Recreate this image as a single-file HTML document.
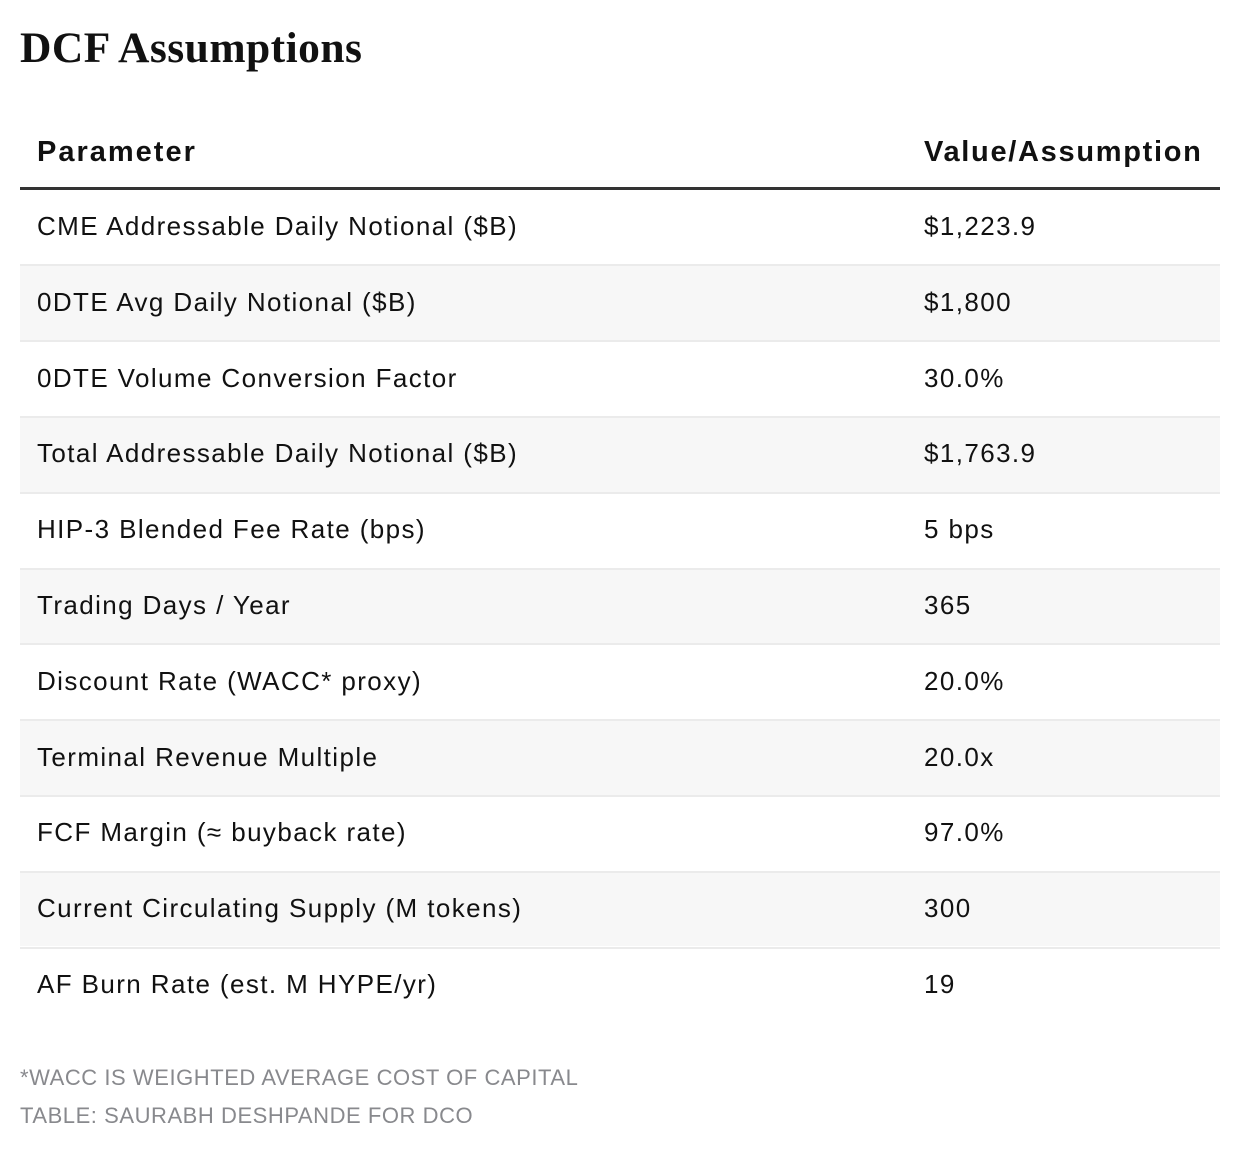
<!DOCTYPE html>
<html>
<head>
<meta charset="utf-8">
<style>
  html, body { margin:0; padding:0; background:#ffffff; }
  body { width:1240px; height:1150px; position:relative; overflow:hidden; font-family:"Liberation Sans", Arial, sans-serif; }
  .title { position:absolute; left:20px; top:27px; font-family:"Liberation Serif", serif; font-weight:bold; font-size:43.5px; line-height:43px; color:#111; white-space:nowrap; letter-spacing:0.45px; }
  .hdr { position:absolute; top:116px; height:72px; line-height:72px; font-weight:bold; font-size:29px; color:#111; letter-spacing:2px; white-space:nowrap; }
  .rule { position:absolute; left:20px; width:1200px; top:187px; height:3px; background:#333; }
  .row { position:absolute; left:20px; width:1200px; height:75.8px; box-sizing:border-box; }
  .row.g { background:#f7f7f7; }
  .row.b { border-top:2px solid #ebebeb; }
  .row .c1, .row .c2 { position:absolute; top:0; height:75.8px; line-height:75.8px; font-size:26px; color:#111; letter-spacing:1.4px; white-space:nowrap; }
  .row.b .c1, .row.b .c2 { top:-1.5px; }
  .c1 { left:17px; }
  .c2 { left:904px; }
  .foot { position:absolute; left:20px; top:1059px; font-size:22px; line-height:38px; color:#88898d; letter-spacing:0.55px; white-space:nowrap; }
</style>
</head>
<body>
  <div class="title">DCF Assumptions</div>
  <div class="hdr" style="left:37px;">Parameter</div>
  <div class="hdr" style="left:924px;letter-spacing:1.7px;">Value/Assumption</div>
  <div class="rule"></div>

  <div class="row" style="top:188.5px;"><div class="c1">CME Addressable Daily Notional ($B)</div><div class="c2">$1,223.9</div></div>
  <div class="row g b" style="top:264.3px;"><div class="c1">0DTE Avg Daily Notional ($B)</div><div class="c2">$1,800</div></div>
  <div class="row b" style="top:340.1px;"><div class="c1">0DTE Volume Conversion Factor</div><div class="c2">30.0%</div></div>
  <div class="row g b" style="top:415.9px;"><div class="c1">Total Addressable Daily Notional ($B)</div><div class="c2">$1,763.9</div></div>
  <div class="row b" style="top:491.7px;"><div class="c1">HIP-3 Blended Fee Rate (bps)</div><div class="c2">5 bps</div></div>
  <div class="row g b" style="top:567.5px;"><div class="c1">Trading Days / Year</div><div class="c2">365</div></div>
  <div class="row b" style="top:643.3px;"><div class="c1">Discount Rate (WACC* proxy)</div><div class="c2">20.0%</div></div>
  <div class="row g b" style="top:719.1px;"><div class="c1">Terminal Revenue Multiple</div><div class="c2">20.0x</div></div>
  <div class="row b" style="top:794.9px;"><div class="c1">FCF Margin (≈ buyback rate)</div><div class="c2">97.0%</div></div>
  <div class="row g b" style="top:870.7px;"><div class="c1">Current Circulating Supply (M tokens)</div><div class="c2">300</div></div>
  <div class="row b" style="top:946.5px;"><div class="c1">AF Burn Rate (est. M HYPE/yr)</div><div class="c2">19</div></div>

  <div class="foot">*WACC IS WEIGHTED AVERAGE COST OF CAPITAL<br>TABLE: SAURABH DESHPANDE FOR DCO</div>
</body>
</html>
